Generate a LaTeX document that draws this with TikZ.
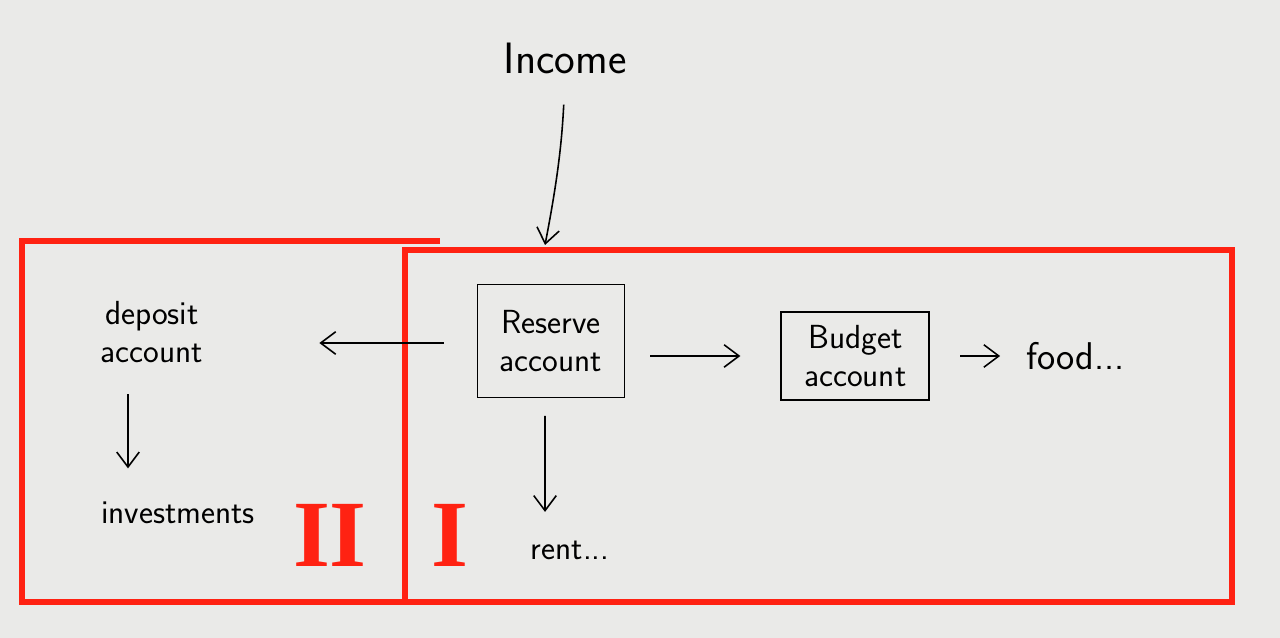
\documentclass[tikz,border=0pt]{standalone}
\usepackage{fontspec}
\newfontfamily\romfont{Liberation Serif}
\usetikzlibrary{positioning, arrows.meta}
\definecolor{paper}{RGB}{234,234,232}
\definecolor{marker}{RGB}{255,34,18}

\tikzset{
    txt/.style={font=\sffamily\fontsize{19}{22}\selectfont, align=center},
    account/.style={rectangle, draw, line width=1pt, txt},
    flow/.style={line width=0.9pt, -{Straight Barb[length=3mm,width=4.5mm]}},
    area/.style={draw=marker, line width=3.4pt},
    areanum/.style={text=marker, font=\romfont\bfseries\fontsize{54}{54}\selectfont}
}

\begin{document}
\begin{tikzpicture}
                        \fill[paper] (0,0) rectangle (25.6,12.76);

                        % areas
                        \draw[area] (8.8,7.94) -- (0.44,7.94) -- (0.44,0.72) -- (8.6,0.72);
                        \draw[area] (8.1,7.76) rectangle (24.64,0.72);

                        \node[txt, font=\sffamily\fontsize{25}{28}\selectfont] (I) at (11.3,11.6) {Income};
                        \coordinate (T) at (10.9,7.86);

                        \node[account, minimum width=2.94cm, minimum height=2.26cm] (R) at (11.02,5.94) {Reserve\\account};
                        \node[account, minimum width=2.96cm, minimum height=1.76cm, right=3.1cm of R, yshift=-0.3cm] (B) {Budget\\account};
                        \node[txt, font=\sffamily\fontsize{22}{24}\selectfont, right=1.8cm of B] (F) {food...};
                        \node[txt] (N) at (11.4,1.76) {rent...};
                        \node[txt] (D) at (3.04,6.12) {deposit\\account};
                        \node[txt] (V) at (3.56,2.5) {investments};

                        \node[areanum] (A2) at (6.6,2.06) {II};
                        \node[areanum] (A1) at (9.0,2.06) {I};

                        \draw[flow, shorten <=0.5cm] (I.south) to[bend left=4] (T);
                        \draw[flow, shorten <=0.5cm, shorten >=0.8cm] (R.east |- B) -- (B.west);
                        \draw[flow, shorten <=0.6cm, shorten >=0.4cm] (B) -- (F);
                        \draw[flow, shorten <=0.35cm, shorten >=0.45cm] ([xshift=-0.12cm]R.south) -- ([xshift=-0.5cm]N.north);
                        \draw[flow, shorten <=0.66cm, shorten >=2.2cm] (R.west |- 0,5.9) -- (D.east |- 0,5.9);
                        \draw[flow, shorten <=0.5cm, shorten >=0.55cm] ([xshift=-0.48cm]D.south) -- ([xshift=-1cm]V.north);
                    \end{tikzpicture}
\end{document}
